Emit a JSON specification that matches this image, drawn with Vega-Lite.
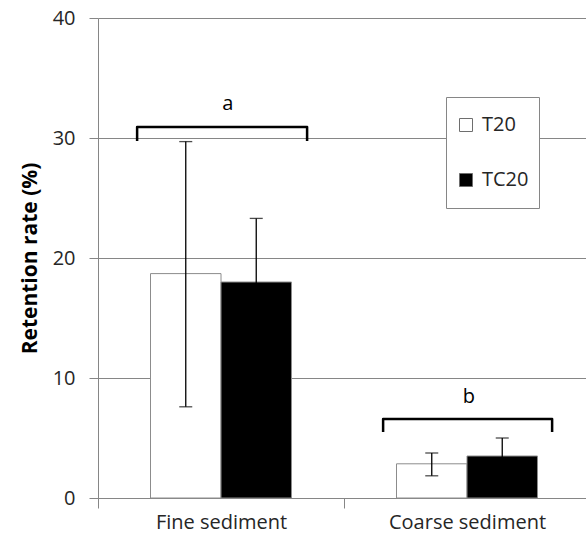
{
  "$schema": "https://vega.github.io/schema/vega-lite/v6.json",
  "width": 492,
  "height": 480,
  "autosize": "none",
  "padding": {"left": 98, "top": 18, "right": 0, "bottom": 52},
  "background": "white",
  "config": {
    "view": {"stroke": null},
    "font": "Open Sans"
  },
  "datasets": {
    "bars": [
      {"sediment": "Fine sediment", "group": "T20", "value": 18.7, "lo": 7.6, "hi": 29.7},
      {"sediment": "Fine sediment", "group": "TC20", "value": 18.0, "lo": 12.7, "hi": 23.3},
      {"sediment": "Coarse sediment", "group": "T20", "value": 2.85, "lo": 1.85, "hi": 3.75},
      {"sediment": "Coarse sediment", "group": "TC20", "value": 3.5, "lo": 2.0, "hi": 5.0}
    ],
    "brackets": [
      {"letter": "a", "pos": 0.159, "y": 29.75, "i": 0},
      {"letter": "a", "pos": 0.159, "y": 30.92, "i": 1},
      {"letter": "a", "pos": 0.85, "y": 30.92, "i": 2},
      {"letter": "a", "pos": 0.85, "y": 29.75, "i": 3},
      {"letter": "b", "pos": 1.159, "y": 5.5, "i": 0},
      {"letter": "b", "pos": 1.159, "y": 6.58, "i": 1},
      {"letter": "b", "pos": 1.846, "y": 6.58, "i": 2},
      {"letter": "b", "pos": 1.846, "y": 5.5, "i": 3}
    ],
    "letters": [
      {"letter": "a", "pos": 0.528, "y": 32.3},
      {"letter": "b", "pos": 1.508, "y": 7.9}
    ]
  },
  "layer": [
    {
      "data": {"name": "bars"},
      "encoding": {
        "x": {
          "field": "sediment", "type": "nominal",
          "sort": ["Fine sediment", "Coarse sediment"],
          "scale": {"paddingInner": 0, "paddingOuter": 0},
          "axis": {
            "title": null, "labelAngle": 0, "labelFontSize": 20, "labelColor": "#262626",
            "domainColor": "#868686", "tickColor": "#868686", "tickBand": "extent",
            "tickSize": 10, "labelPadding": 4, "grid": false
          }
        },
        "xOffset": {
          "field": "group", "type": "nominal",
          "scale": {"paddingInner": 0, "paddingOuter": 0.745}
        }
      },
      "layer": [
        {
          "mark": {"type": "bar", "stroke": "#8c8c8c", "strokeWidth": 1},
          "encoding": {
            "y": {
              "field": "value", "type": "quantitative",
              "scale": {"domain": [0, 40], "nice": false},
              "axis": {
                "title": "Retention rate (%)", "titleFontSize": 21, "titleFontWeight": "bold",
                "titleColor": "black", "titlePadding": 12,
                "values": [0, 10, 20, 30, 40], "labelFontSize": 20, "labelColor": "#262626",
                "labelPadding": 14, "tickSize": 9, "tickColor": "#868686", "domainColor": "#868686",
                "grid": true, "gridColor": "#868686", "gridWidth": 1
              }
            },
            "color": {
              "field": "group", "type": "nominal",
              "scale": {"domain": ["T20", "TC20"], "range": ["white", "black"]},
              "legend": {
                "title": null, "orient": "none", "legendX": 348, "legendY": 79,
                "symbolType": "square", "symbolSize": 169, "symbolStrokeColor": "#6e6e6e",
                "symbolStrokeWidth": 1, "labelFontSize": 20, "labelColor": "#262626",
                "labelOffset": 6, "clipHeight": 36, "rowPadding": 19, "padding": 10,
                "strokeColor": "#868686", "fillColor": "white"
              }
            }
          }
        },
        {
          "mark": {"type": "rule", "color": "black", "strokeWidth": 1.3},
          "encoding": {
            "y": {"field": "lo", "type": "quantitative"},
            "y2": {"field": "hi"}
          }
        },
        {
          "mark": {"type": "tick", "color": "black", "size": 13, "thickness": 1.3},
          "encoding": {
            "y": {"field": "hi", "type": "quantitative"}
          }
        },
        {
          "mark": {"type": "tick", "color": "black", "size": 13, "thickness": 1.3},
          "encoding": {
            "y": {"field": "lo", "type": "quantitative"}
          }
        }
      ]
    },
    {
      "data": {"name": "brackets"},
      "mark": {"type": "line", "color": "black", "strokeWidth": 2.5, "strokeJoin": "round", "strokeCap": "butt"},
      "encoding": {
        "x": {"field": "pos", "type": "quantitative", "scale": {"domain": [0, 2]}, "axis": null},
        "y": {"field": "y", "type": "quantitative"},
        "detail": {"field": "letter"},
        "order": {"field": "i"}
      }
    },
    {
      "data": {"name": "letters"},
      "mark": {"type": "text", "fontSize": 20, "color": "black", "baseline": "alphabetic", "align": "center"},
      "encoding": {
        "x": {"field": "pos", "type": "quantitative", "scale": {"domain": [0, 2]}, "axis": null},
        "y": {"field": "y", "type": "quantitative"},
        "text": {"field": "letter"}
      }
    }
  ],
  "resolve": {"scale": {"x": "independent"}}
}
